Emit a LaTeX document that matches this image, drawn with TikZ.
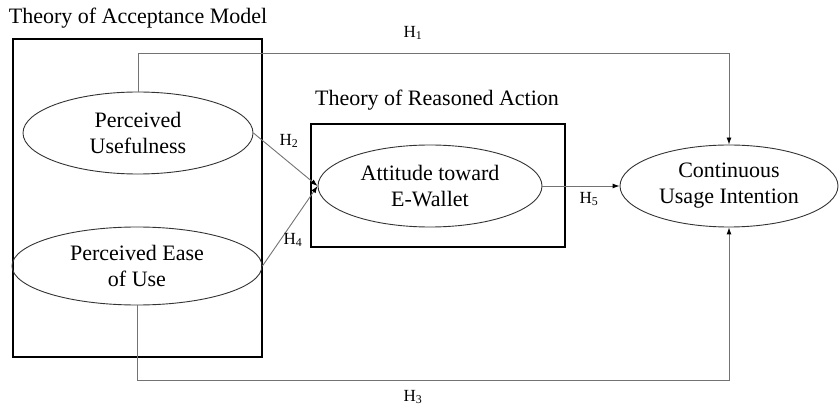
\documentclass[tikz,border=0pt]{standalone}
\usepackage{fontspec}
\setmainfont{Liberation Serif}
\usetikzlibrary{shapes.geometric,arrows.meta}
\begin{document}
\begin{tikzpicture}[x=1pt,y=-1pt,
  construct/.style={ellipse,draw=black!80,line width=0.9pt,inner sep=0pt,align=center,
    font=\fontsize{22}{26}\selectfont},
  framebox/.style={draw=black,line width=2.8pt,inner sep=0pt},
  conn/.style={draw=black!55,line width=0.9pt},
  tip/.style={-{Latex[length=7pt,width=5pt,fill=black,color=black]}},
  hlab/.style={font=\fontsize{17}{19}\selectfont,inner sep=0pt},
  title/.style={font=\fontsize{22}{26}\selectfont,inner sep=0pt}]
\useasboundingbox (0,0) rectangle (839,409);
% frames
\node[framebox,minimum width=249,minimum height=318] (tam) at (137.5,198) {};
\node[framebox,minimum width=254,minimum height=123] (tra) at (438,185.5) {};
\node[title] (tamt) at (138,18) {Theory of Acceptance Model};
\node[title] (trat) at (437,100) {Theory of Reasoned Action};
% constructs
\node[construct,minimum width=230,minimum height=82] (pu) at (138,133) {Perceived\\Usefulness};
\node[construct,minimum width=250,minimum height=78] (peou) at (137,266) {Perceived Ease\\of Use};
\node[construct,minimum width=224,minimum height=82] (att) at (430,186) {Attitude toward\\E-Wallet};
\node[construct,minimum width=218,minimum height=82] (cui) at (729,186) {Continuous\\Usage Intention};
% helper coordinates
\coordinate (h1y) at (400,53);
\coordinate (h3y) at (400,380);
% connectors
\draw[conn,tip] (pu.north) -- (pu.north |- h1y) -| (cui.north);
\draw[conn,tip] (pu.east) -- (att.west);
\draw[conn,tip] (peou.east) -- (att.west);
\draw[conn,tip] (att.east) -- (cui.west);
\draw[conn,tip] (peou.south) -- (peou.south |- h3y) -| (cui.south);
% labels
\node[hlab] (l1) at (413,33) {H\textsubscript{1}};
\node[hlab] (l2) at (289,141) {H\textsubscript{2}};
\node[hlab] (l4) at (293,240) {H\textsubscript{4}};
\node[hlab] (l5) at (589,199) {H\textsubscript{5}};
\node[hlab] (l3) at (413,397) {H\textsubscript{3}};
\end{tikzpicture}
\end{document}
